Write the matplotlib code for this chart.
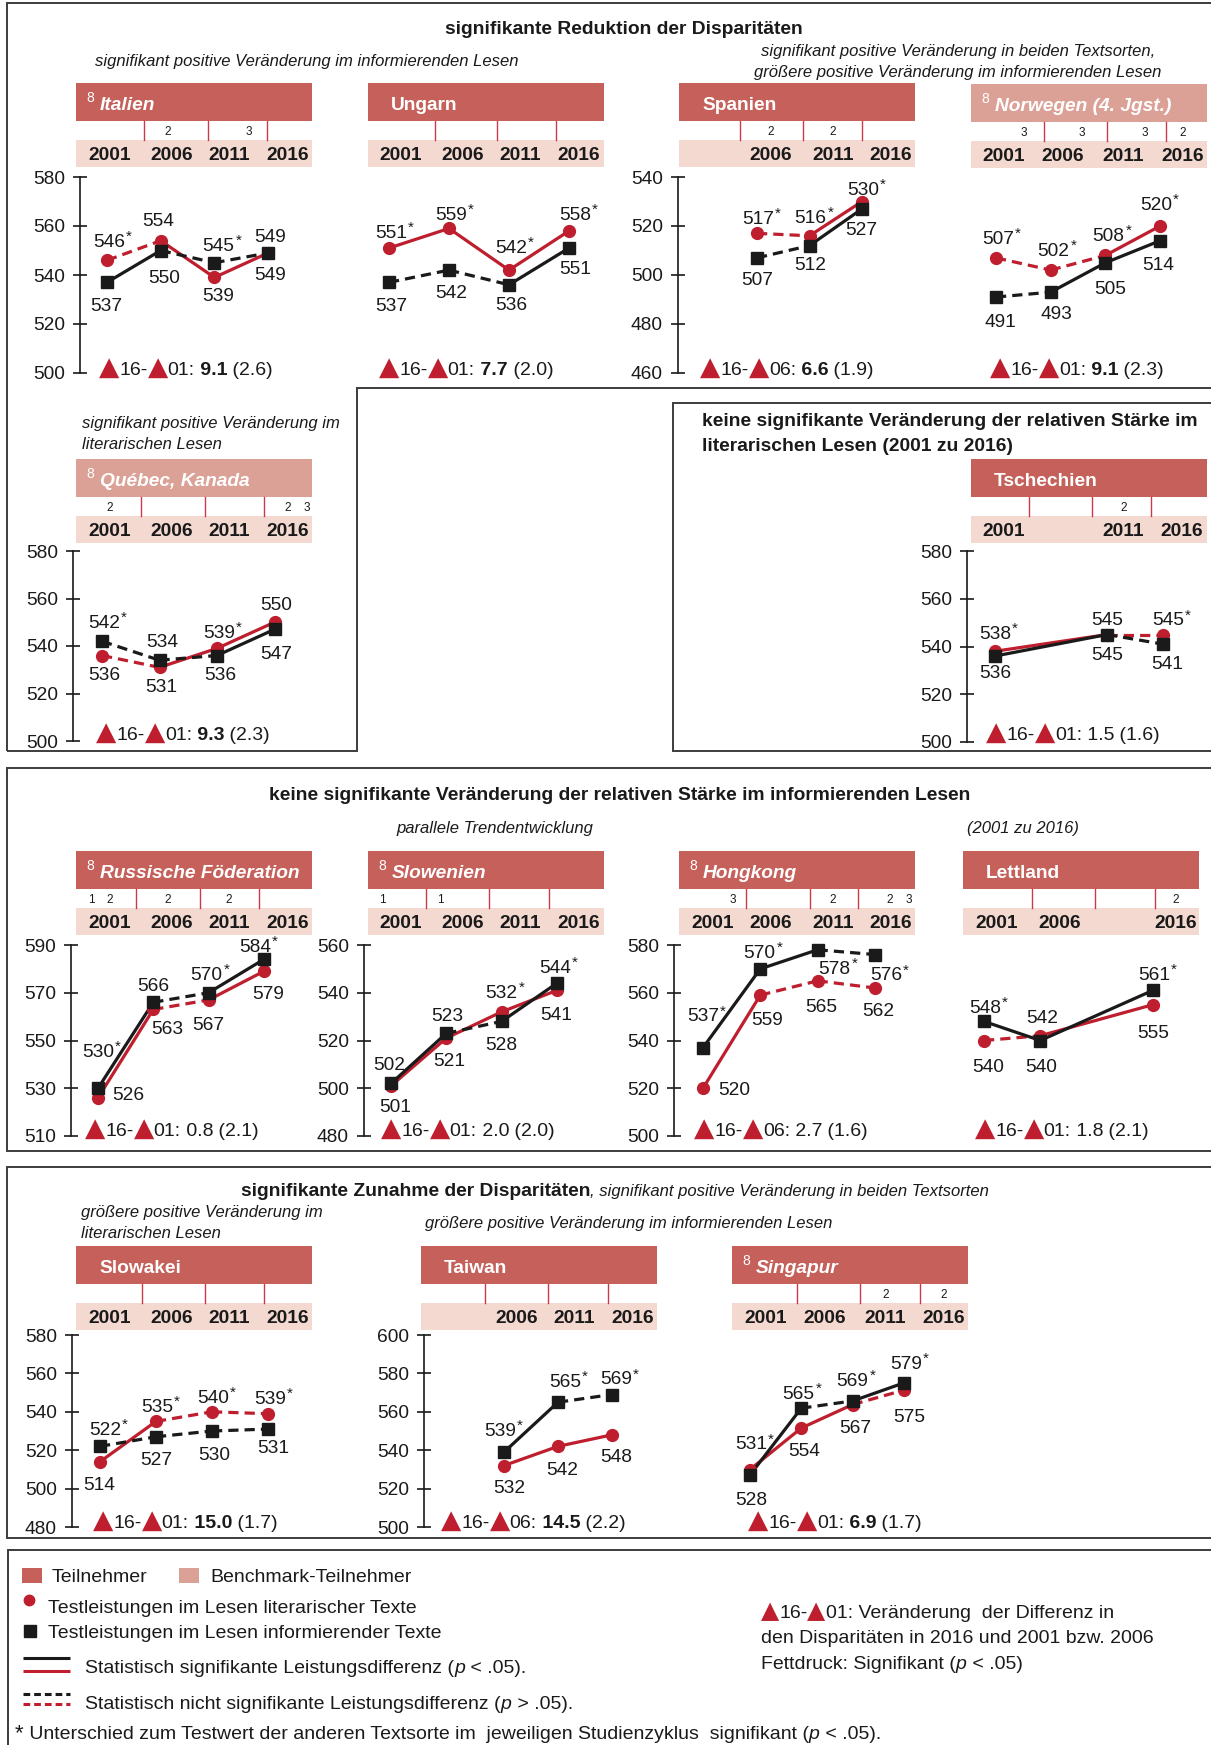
import numpy as np
import matplotlib
matplotlib.use('Agg')
import matplotlib.pyplot as plt
from matplotlib.patches import Rectangle

plt.rcParams['font.family'] = ['Liberation Sans', 'DejaVu Sans']

YEARS = ['2001', '2006', '2011', '2016']
NA = np.nan

# Reading scores: literary texts (red) and informational texts (black)
italien_lit = [546, 554, 539, 549]
italien_inf = [537, 550, 545, 549]
ungarn_lit = [551, 559, 542, 558]
ungarn_inf = [537, 542, 536, 551]
spanien_lit = [NA, 517, 516, 530]
spanien_inf = [NA, 507, 512, 527]
norwegen_lit = [507, 502, 508, 520]
norwegen_inf = [491, 493, 505, 514]
quebec_lit = [536, 531, 539, 550]
quebec_inf = [542, 534, 536, 547]
tschechien_lit = [538, NA, 545, 545]
tschechien_inf = [536, NA, 545, 541]
russland_lit = [526, 563, 567, 579]
russland_inf = [530, 566, 570, 584]
slowenien_lit = [501, 521, 532, 541]
slowenien_inf = [502, 523, 528, 544]
hongkong_lit = [520, 559, 565, 562]
hongkong_inf = [537, 570, 578, 576]
lettland_lit = [540, 542, NA, 555]
lettland_inf = [548, 540, NA, 561]
slowakei_lit = [514, 535, 540, 539]
slowakei_inf = [522, 527, 530, 531]
taiwan_lit = [NA, 532, 542, 548]
taiwan_inf = [NA, 539, 565, 569]
singapur_lit = [531, 554, 567, 575]
singapur_inf = [528, 565, 569, 579]

# Significant change between consecutive cycles (1 = solid, 0 = dashed)
italien_sig = ([0, 1, 1], [1, 0, 0])
ungarn_sig = ([1, 1, 1], [0, 0, 1])
spanien_sig = ([0, 1], [0, 1])
norwegen_sig = ([0, 0, 1], [0, 1, 1])
quebec_sig = ([0, 1, 1], [0, 0, 1])
tschechien_sig = ([1, 0], [1, 0])
russland_sig = ([1, 0, 1], [1, 0, 1])
slowenien_sig = ([1, 1, 1], [1, 0, 1])
hongkong_sig = ([1, 0, 0], [1, 1, 0])
lettland_sig = ([0, 1], [1, 1])
slowakei_sig = ([1, 0, 0], [0, 0, 0])
taiwan_sig = ([1, 1], [1, 0])
singapur_sig = ([1, 1, 0], [1, 0, 1])

# Score marked with * (difference to the other text type significant)
italien_star = ['l', '', 'i', '']
ungarn_star = ['l', 'l', 'l', 'l']
spanien_star = ['', 'l', 'l', 'l']
norwegen_star = ['l', 'l', 'l', 'l']
quebec_star = ['i', '', 'l', '']
tschechien_star = ['l', '', '', 'l']
russland_star = ['i', '', 'i', 'i']
slowenien_star = ['', '', 'l', 'i']
hongkong_star = ['i', 'i', 'i', 'i']
lettland_star = ['i', '', '', 'i']
slowakei_star = ['i', 'l', 'l', 'l']
taiwan_star = ['', 'i', 'i', 'i']
singapur_star = ['l', 'i', 'i', 'i']

# Change of the disparity: base cycle, value, standard error, significant
italien_delta = ('01', '9.1', '2.6', True)
ungarn_delta = ('01', '7.7', '2.0', True)
spanien_delta = ('06', '6.6', '1.9', True)
norwegen_delta = ('01', '9.1', '2.3', True)
quebec_delta = ('01', '9.3', '2.3', True)
tschechien_delta = ('01', '1.5', '1.6', False)
russland_delta = ('01', '0.8', '2.1', False)
slowenien_delta = ('01', '2.0', '2.0', False)
hongkong_delta = ('06', '2.7', '1.6', False)
lettland_delta = ('01', '1.8', '2.1', False)
slowakei_delta = ('01', '15.0', '1.7', True)
taiwan_delta = ('06', '14.5', '2.2', True)
singapur_delta = ('01', '6.9', '1.7', True)

# Footnote markers above the year row
italien_fn = ['', '2', '3', '']
norwegen_fn = ['3', '3', '3', '2']
spanien_fn = ['', '2', '2', '']
quebec_fn = ['2', '', '', '2 3']
tschechien_fn = ['', '', '2', '']
russland_fn = ['1 2', '2', '2', '']
slowenien_fn = ['1', '1', '', '']
hongkong_fn = ['3', '', '2', '2 3']
lettland_fn = ['', '', '', '2']
singapur_fn = ['', '', '2', '2']
none_fn = ['', '', '', '']

W, H = 1211, 1745
PX = 100 / 72
FS = 13.8
TS = 13.9
SS = 12
LS = 14
RED = '#BE1E2D'
BLK = '#1A1A1A'
PART = '#C5605A'
BENCH = '#DCA196'
BAND = '#F3D9D0'
FNL = '#CC3A4A'
FRAME = '#3C3C3C'
TXT = '#1A1A1A'

fig = plt.figure(figsize=(W / 100, H / 100), dpi=100)
ov = fig.add_axes([0, 0, 1, 1])
ov.set_xlim(0, W)
ov.set_ylim(H, 0)
ov.axis('off')
renderer = fig.canvas.get_renderer()


def txt(x, y, s, size=FS, ha='left', **kw):
    kw.setdefault('color', TXT)
    return ov.text(x, y + 0.358 * size * PX, s, fontsize=size, ha=ha,
                   va='baseline', **kw)


def seq(x, y, pieces, size=FS):
    for s, kw in pieces:
        kw = dict(kw)
        sz = kw.pop('size', size)
        kw.setdefault('color', TXT)
        t = ov.text(x, y + 0.358 * size * PX, s, fontsize=sz, ha='left',
                    va='baseline', **kw)
        x += t.get_window_extent(renderer).width
    return x


def tri(size):
    return ('\u25B2', dict(color=RED, family='DejaVu Sans', size=size))


def header(box, kind, name, italic, sup8, flines, fn, fx, yx, shown):
    l, t, r, b = box
    ov.add_patch(Rectangle((l, t), r - l, b - t, color=PART if kind == 'p' else BENCH, lw=0))
    if sup8:
        txt(l + 10, t + 14, '8', size=10, color='white')
        txt(l + 24, t + 20, name, weight='bold', style='italic' if italic else 'normal', color='white')
    else:
        txt(l + 23, t + 20, name, weight='bold', color='white')
    for x in flines:
        ov.plot([x, x], [b, b + 19], color=FNL, lw=1.0)
    ov.add_patch(Rectangle((l, b + 19), r - l, 27, color=BAND, lw=0))
    for i, yr in enumerate(YEARS):
        if shown[i]:
            txt(yx[i], b + 32.5, yr, ha='center', weight='bold')
    for i, f in enumerate(fn):
        for k, tok in enumerate(f.split()):
            txt(fx[i] + 19 * k, b + 10, tok, size=8.5, ha='center')


def panel(lit, inf, sig, star, delta, fn, L):
    px0, pdx = L['px']
    (lo, ylo), (hi, yhi) = L['y']
    spine = L.get('spine')
    left = spine if spine else px0 - 25
    right = px0 + 3 * pdx + 25
    ax = fig.add_axes([left / W, 1 - ylo / H, (right - left) / W, (ylo - yhi) / H])
    ax.set_ylim(lo, hi)
    ax.set_xlim((left - px0) / pdx, (right - px0) / pdx)
    ax.patch.set_visible(False)
    for s in ['top', 'right', 'bottom']:
        ax.spines[s].set_visible(False)
    ax.set_xticks([])
    if spine:
        ax.spines['left'].set_linewidth(1.2)
        ax.spines['left'].set_color(BLK)
        ax.set_yticks(np.arange(lo, hi + 1, 20))
        ax.tick_params(axis='y', direction='inout', length=10, width=1.2,
                       labelsize=FS, pad=6, colors=BLK)
    else:
        ax.spines['left'].set_visible(False)
        ax.set_yticks([])

    for vals, sg, col, mk, key, offs in ((lit, sig[0], RED, 'o', 'l', L['ol']),
                                         (inf, sig[1], BLK, 's', 'i', L['oi'])):
        idx = [i for i, v in enumerate(vals) if not np.isnan(v)]
        for k in range(len(idx) - 1):
            a, b = idx[k], idx[k + 1]
            ax.plot([a, b], [vals[a], vals[b]], color=col, lw=2.3,
                    linestyle='-' if sg[k] else (0, (3.2, 1.9)),
                    solid_capstyle='butt', dash_capstyle='butt', clip_on=False, zorder=2)
        ax.plot(idx, [vals[i] for i in idx], linestyle='none', marker=mk,
                ms=8.5 if mk == 'o' else 8.8, color=col, clip_on=False, zorder=3)
        for i in idx:
            dx, dy = offs[i]
            lab = ax.annotate(str(int(vals[i])), xy=(i, vals[i]), xytext=(dx, -(dy + 6.8)),
                              textcoords='offset pixels', ha='center', va='baseline',
                              fontsize=FS, color=TXT, annotation_clip=False)
            if star[i] == key:
                ax.annotate('*', xy=(1, 1), xycoords=lab, xytext=(1, 4),
                            textcoords='offset pixels', ha='left', va='top',
                            fontsize=11, color=TXT, annotation_clip=False)

    base, val, se, bold = delta
    dxp, dyp = L['delta']
    seq(dxp, dyp, [tri(19), ('16-', {}), tri(19), (base + ':', {}),
                   (' ' + val, dict(weight='bold' if bold else 'normal')),
                   (' (' + se + ')', {})], size=14)

    shown = [not (np.isnan(lit[i]) and np.isnan(inf[i])) for i in range(4)]
    header(L['box'], L['kind'], L['name'], L['italic'], L['sup8'], L['flines'],
           fn, L.get('fx', [0, 0, 0, 0]), L['yx'], shown)


# ---- frames ----
def frame(xs, ys):
    ov.plot(xs, ys, color=FRAME, lw=1.4, solid_capstyle='butt', solid_joinstyle='miter')


frame([7, 7, W], [751, 3, 3])
frame([7, 357, 357, W], [751, 751, 388, 388])
frame([W, 673, 673, W], [403, 403, 751, 751])
frame([W, 7, 7, W], [768, 768, 1151, 1151])
frame([W, 7, 7, W], [1167, 1167, 1538, 1538])
frame([8, 8, W], [H, 1550, 1550])

# ---- section texts ----
txt(624, 27, 'signifikante Reduktion der Disparitäten', size=TS, ha='center', weight='bold')
txt(95, 60, 'signifikant positive Veränderung im informierenden Lesen', size=SS, style='italic')
txt(958, 50, 'signifikant positive Veränderung in beiden Textsorten,', size=SS, style='italic', ha='center')
txt(958, 71, 'größere positive Veränderung im informierenden Lesen', size=SS, style='italic', ha='center')
txt(82, 422, 'signifikant positive Veränderung im', size=SS, style='italic')
txt(82, 443, 'literarischen Lesen', size=SS, style='italic')
txt(702, 419, 'keine signifikante Veränderung der relativen Stärke im', size=TS, weight='bold')
txt(702, 444, 'literarischen Lesen (2001 zu 2016)', size=TS, weight='bold')
txt(620, 793, 'keine signifikante Veränderung der relativen Stärke im informierenden Lesen',
    size=TS, ha='center', weight='bold')
txt(495, 827, 'parallele Trendentwicklung', size=SS, style='italic', ha='center')
txt(1023, 827, '(2001 zu 2016)', size=SS, style='italic', ha='center')
seq(241, 1189, [('signifikante Zunahme der Disparitäten', dict(weight='bold')),
                (', signifikant positive Veränderung in beiden Textsorten', dict(style='italic', size=SS))],
    size=TS)
txt(81, 1211, 'größere positive Veränderung im', size=SS, style='italic')
txt(81, 1232, 'literarischen Lesen', size=SS, style='italic')
txt(425, 1222, 'größere positive Veränderung im informierenden Lesen', size=SS, style='italic')

# ---- panels ----
Y1 = ((500, 373), (580, 177))
Y1s = ((460, 373), (540, 177))
Y2 = ((500, 741), (580, 551))
Y2t = ((500, 742), (580, 551))
Y3r = ((510, 1136), (590, 945))
Y3s = ((480, 1136), (560, 945))
Y3h = ((500, 1136), (580, 945))
Y4s = ((480, 1527), (580, 1335))
Y4t = ((500, 1527), (600, 1335))
Y4g = ((500, 1525.5), (600, 1345))

panel(italien_lit, italien_inf, italien_sig, italien_star, italien_delta, italien_fn, dict(
    px=(107, 53.7), y=Y1, spine=80, delta=(99, 368),
    ol=[(2, -20), (-3, -21), (4, 17), (2, -18)], oi=[(-1, 22), (3, 26), (4, -19), (2, 20)],
    box=(76, 83, 312, 121), kind='p', name='Italien', italic=True, sup8=True,
    flines=[144, 208, 267], fx=[0, 168, 249, 0], yx=[109.5, 172, 229, 288]))
panel(ungarn_lit, ungarn_inf, ungarn_sig, ungarn_star, ungarn_delta, none_fn, dict(
    px=(389, 60), y=Y1, delta=(379, 368),
    ol=[(2, -17), (2, -15), (2, -24), (6, -18)], oi=[(2, 22), (2, 21), (2, 18), (6, 19)],
    box=(368, 83, 604, 121), kind='p', name='Ungarn', italic=False, sup8=False,
    flines=[435, 497, 556], yx=[401, 463, 520, 579]))
panel(spanien_lit, spanien_inf, spanien_sig, spanien_star, spanien_delta, spanien_fn, dict(
    px=(704.5, 52.5), y=Y1s, spine=678, delta=(700, 368),
    ol=[None, (1, -16), (1, -20), (1, -13.5)], oi=[None, (0, 20), (1, 18), (-1, 19)],
    box=(679, 83, 915, 121), kind='p', name='Spanien', italic=False, sup8=False,
    flines=[740, 803, 862], fx=[0, 771, 833, 0], yx=[713, 771, 833, 891]))
panel(norwegen_lit, norwegen_inf, norwegen_sig, norwegen_star, norwegen_delta, norwegen_fn, dict(
    px=(996, 54.7), y=Y1s, delta=(990, 368),
    ol=[(2, -21), (3, -21), (3, -21), (-4, -23)], oi=[(4, 23), (6, 20), (5, 24), (-2, 23)],
    box=(971, 84, 1207, 122), kind='b', name='Norwegen (4. Jgst.)', italic=True, sup8=True,
    flines=[1044, 1107, 1166], fx=[1024, 1082, 1145, 1183], yx=[1004, 1063, 1123, 1183]))
panel(quebec_lit, quebec_inf, quebec_sig, quebec_star, quebec_delta, quebec_fn, dict(
    px=(102, 57.5), y=Y2, spine=73, delta=(96, 733),
    ol=[(2, 18), (2, 18), (2, -17), (2, -19)], oi=[(2, -20), (3, -20), (3, 18), (2, 23)],
    box=(76, 459, 312, 497), kind='b', name='Québec, Kanada', italic=True, sup8=True,
    flines=[141, 205, 264], fx=[110, 0, 0, 288], yx=[109.5, 172, 229, 288]))
panel(tschechien_lit, tschechien_inf, tschechien_sig, tschechien_star, tschechien_delta, tschechien_fn, dict(
    px=(995, 56), y=Y2t, spine=967, delta=(986, 733),
    ol=[(0, -19), None, (0, -16), (5, -16)], oi=[(0, 15), None, (0, 19), (4, 18)],
    box=(971, 459, 1207, 497), kind='p', name='Tschechien', italic=False, sup8=False,
    flines=[1029, 1092, 1151], fx=[0, 0, 1124, 0], yx=[1004, 1063, 1123, 1182]))
panel(russland_lit, russland_inf, russland_sig, russland_star, russland_delta, russland_fn, dict(
    px=(98, 55.3), y=Y3r, spine=71, delta=(85, 1129),
    ol=[(30, -5), (14, 18), (0, 23), (4, 21)], oi=[(0, -38), (0, -18), (-2, -20), (-9, -14)],
    box=(76, 851, 312, 889), kind='p', name='Russische Föderation', italic=True, sup8=True,
    flines=[136, 200, 259], fx=[91, 168, 229, 0], yx=[109.5, 172, 229, 288]))
panel(slowenien_lit, slowenien_inf, slowenien_sig, slowenien_star, slowenien_delta, slowenien_fn, dict(
    px=(391, 55.3), y=Y3s, spine=364, delta=(381, 1129),
    ol=[(4, 19), (3, 21), (0, -21), (-1, 23)], oi=[(-2, -20.5), (1, -19), (0, 22), (-2, -17)],
    box=(368, 851, 604, 889), kind='p', name='Slowenien', italic=True, sup8=True,
    flines=[426, 489, 549], fx=[382, 440, 0, 0], yx=[401, 463, 520, 579]))
panel(hongkong_lit, hongkong_inf, hongkong_sig, hongkong_star, hongkong_delta, hongkong_fn, dict(
    px=(703, 57.3), y=Y3h, spine=674, delta=(694, 1129),
    ol=[(31, 0), (7, 23), (4, 24), (3, 21)], oi=[(0, -33), (-1, -18), (17, 17), (11, 19)],
    box=(679, 851, 915, 889), kind='p', name='Hongkong', italic=True, sup8=True,
    flines=[746, 810, 858], fx=[733, 0, 833, 890], yx=[713, 771, 833, 891]))
panel(lettland_lit, lettland_inf, lettland_sig, lettland_star, lettland_delta, lettland_fn, dict(
    px=(984, 56.3), y=Y3h, delta=(975, 1129),
    ol=[(4, 25), (2, -20), None, (0, 27)], oi=[(1, -15), (1, 25), None, (1, -17)],
    box=(963, 851, 1199, 889), kind='p', name='Lettland', italic=False, sup8=False,
    flines=[1032, 1095, 1155], fx=[0, 0, 0, 1176], yx=[997, 1060, 1118, 1176]))
panel(slowakei_lit, slowakei_inf, slowakei_sig, slowakei_star, slowakei_delta, none_fn, dict(
    px=(100, 56), y=Y4s, spine=72, delta=(93, 1521),
    ol=[(-1, 21), (1, -16), (1, -16), (2, -17)], oi=[(5, -18), (0, 21), (2, 22), (5, 17)],
    box=(76, 1246, 312, 1284), kind='p', name='Slowakei', italic=False, sup8=False,
    flines=[142, 205, 264], yx=[109.5, 172, 229, 288]))
panel(taiwan_lit, taiwan_inf, taiwan_sig, taiwan_star, taiwan_delta, none_fn, dict(
    px=(450, 54), y=Y4t, spine=424, delta=(441, 1521),
    ol=[None, (5, 21), (4, 22), (4, 20)], oi=[None, (-4, -23), (7, -22), (4, -17)],
    box=(421, 1246, 657, 1284), kind='p', name='Taiwan', italic=False, sup8=False,
    flines=[485, 548, 608], yx=[455, 517, 574, 633]))
panel(singapur_lit, singapur_inf, singapur_sig, singapur_star, singapur_delta, singapur_fn, dict(
    px=(750, 51.3), y=Y4g, delta=(748, 1521),
    ol=[(1, -27), (3, 21), (3, 22), (5, 25)], oi=[(1, 23), (-3, -16), (0, -22), (2, -21)],
    box=(732, 1246, 968, 1284), kind='p', name='Singapur', italic=True, sup8=True,
    flines=[797, 860, 920], fx=[0, 0, 886, 944], yx=[766, 825, 885, 944]))

# ---- legend ----
ov.add_patch(Rectangle((22, 1568), 20, 15, color=PART, lw=0))
txt(52, 1575, 'Teilnehmer', size=LS)
ov.add_patch(Rectangle((179, 1568), 20, 15, color=BENCH, lw=0))
txt(210, 1575, 'Benchmark-Teilnehmer', size=LS)
ov.plot([29], [1600], 'o', color=RED, ms=7.5)
txt(48, 1606, 'Testleistungen im Lesen literarischer Texte', size=LS)
ov.plot([30], [1631], 's', color=BLK, ms=8.5)
txt(48, 1631, 'Testleistungen im Lesen informierender Texte', size=LS)
ov.plot([23, 70], [1658, 1658], color=BLK, lw=2.2, solid_capstyle='butt')
ov.plot([23, 70], [1671, 1671], color=RED, lw=2.2, solid_capstyle='butt')
seq(85, 1666, [('Statistisch signifikante Leistungsdifferenz (', {}), ('p', dict(style='italic')),
               (' < .05).', {})], size=LS)
ov.plot([23, 70], [1694, 1694], color=BLK, lw=2.2, linestyle=(0, (2.2, 1.3)), dash_capstyle='butt')
ov.plot([23, 70], [1704, 1704], color=RED, lw=2.2, linestyle=(0, (2.2, 1.3)), dash_capstyle='butt')
seq(85, 1702, [('Statistisch nicht signifikante Leistungsdifferenz (', {}), ('p', dict(style='italic')),
               (' > .05).', {})], size=LS)
seq(15, 1732, [('*', dict(size=16)),
               (' Unterschied zum Testwert der anderen Textsorte im  jeweiligen Studienzyklus  signifikant (', {}),
               ('p', dict(style='italic')), (' < .05).', {})], size=LS)
seq(761, 1611, [tri(17), ('16-', {}), tri(17), ('01: Veränderung  der Differenz in', {})], size=LS)
txt(761, 1636, 'den Disparitäten in 2016 und 2001 bzw. 2006', size=LS)
seq(761, 1662, [('Fettdruck: Signifikant (', {}), ('p', dict(style='italic')), (' < .05)', {})], size=LS)

fig.savefig('out.png', dpi=100)
